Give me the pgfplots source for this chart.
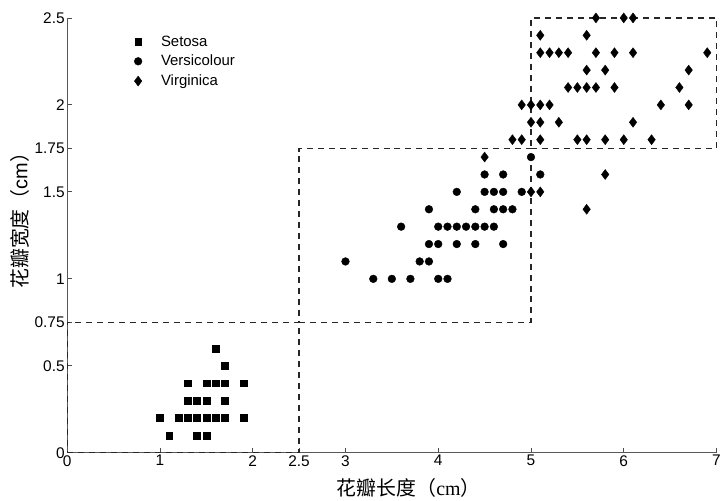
\documentclass[border=0pt]{standalone}
\usepackage{fontspec}
\setmainfont{Liberation Sans}
\newfontfamily\cjk{Noto Sans CJK SC}
\newfontfamily\serif{Liberation Serif}
\usepackage{pgfplots}
\pgfplotsset{compat=1.18}
\begin{document}
\begin{tikzpicture}
\begin{axis}[
  scale only axis,
  width=652.5pt, height=437pt,
  xmin=0, xmax=7, ymin=0, ymax=2.5,
  axis lines*=left,
  axis line style={-, draw=black!65, line width=0.8pt},
  tick align=inside,
  major tick length=5pt,
  tick style={black!70, line width=0.8pt},
  clip=false,
  xtick={0,1,2,2.5,3,4,5,6,7},
  xticklabels={0,1,2,2.5,3,4,5,6,7},
  ytick={0,0.5,0.75,1,1.5,1.75,2,2.5},
  yticklabels={0,0.5,0.75,1,1.5,1.75,2,2.5},
  /pgf/number format/assume math mode=true,
  tick label style={font=\fontsize{15.5}{17}\selectfont},
  xticklabel style={yshift=1pt},
  yticklabel style={xshift=1pt},
  xlabel={{\cjk 花瓣长度（}{\serif cm}{\cjk ）}},
  ylabel={{\cjk 花瓣宽度（}cm{\cjk ）}},
  label style={font=\fontsize{20}{22}\selectfont},
  xlabel style={at={(axis description cs:0.526,0)}, anchor=center, yshift=-35.5pt},
  ylabel style={at={(axis description cs:0,0.545)}, anchor=center, yshift=47.5pt},
  legend style={at={(axis cs:0.72,2.41)}, anchor=north west, draw=none, fill=none,
    font=\fontsize{15}{17}\selectfont, row sep=3.5pt, inner sep=0pt,
    nodes={inner xsep=1pt}},
  legend cell align=left,
  legend image code/.code={\draw[#1] plot coordinates {(4pt,0pt)};
    \path[draw=none, fill=none] (0pt,-0.1pt) rectangle (26pt,0.1pt);},
]
% dashed decision boxes
\addplot[black!85, line width=1.2pt, dash pattern=on 6pt off 5pt, forget plot]
  coordinates {(0,0) (2.5,0) (2.5,0.75) (0,0.75) (0,0)};
\addplot[black!85, line width=1.2pt, dash pattern=on 6pt off 5pt, forget plot]
  coordinates {(2.5,0.75) (5,0.75) (5,1.75) (2.5,1.75) (2.5,0.75)};
\addplot[black!85, line width=1.2pt, dash pattern=on 6pt off 5pt, forget plot]
  coordinates {(5,1.75) (7,1.75) (7,2.5) (5,2.5) (5,1.75)};
% Setosa
\addplot[only marks, mark=square*, mark size=3.4pt, black] coordinates {
(1.0,0.2) (1.1,0.1) (1.2,0.2) (1.3,0.2) (1.3,0.3) (1.3,0.4) (1.4,0.1) (1.4,0.2)
(1.4,0.3) (1.5,0.1) (1.5,0.2) (1.5,0.3) (1.5,0.4) (1.6,0.2) (1.6,0.4) (1.6,0.6)
(1.7,0.2) (1.7,0.3) (1.7,0.4) (1.7,0.5) (1.9,0.2) (1.9,0.4)};
\addlegendentry{Setosa}
% Versicolour
\addplot[only marks, mark=*, mark size=3.9pt, black] coordinates {
(3.3,1.0) (3.5,1.0) (3.7,1.0) (4.0,1.0) (4.1,1.0)
(3.0,1.1) (3.8,1.1) (3.9,1.1)
(3.9,1.2) (4.0,1.2) (4.2,1.2) (4.4,1.2) (4.7,1.2)
(3.6,1.3) (4.0,1.3) (4.1,1.3) (4.2,1.3) (4.3,1.3) (4.4,1.3) (4.5,1.3) (4.6,1.3)
(3.9,1.4) (4.4,1.4) (4.6,1.4) (4.7,1.4) (4.8,1.4)
(4.2,1.5) (4.5,1.5) (4.6,1.5) (4.7,1.5) (4.9,1.5)
(4.5,1.6) (4.7,1.6) (5.1,1.6)
(5.0,1.7)};
\addlegendentry{Versicolour}
% Virginica
\addplot[only marks, mark=diamond*, mark size=5pt, black] coordinates {
(5.6,1.4) (5.0,1.5) (5.1,1.5) (5.8,1.6) (4.5,1.7)
(4.8,1.8) (4.9,1.8) (5.1,1.8) (5.5,1.8) (5.6,1.8) (5.8,1.8) (6.0,1.8) (6.3,1.8)
(5.0,1.9) (5.1,1.9) (5.3,1.9) (6.1,1.9)
(4.9,2.0) (5.0,2.0) (5.1,2.0) (5.2,2.0) (6.4,2.0) (6.7,2.0)
(5.4,2.1) (5.5,2.1) (5.6,2.1) (5.7,2.1) (5.9,2.1) (6.6,2.1)
(5.6,2.2) (5.8,2.2) (6.7,2.2)
(5.1,2.3) (5.2,2.3) (5.3,2.3) (5.4,2.3) (5.7,2.3) (5.9,2.3) (6.1,2.3) (6.9,2.3)
(5.1,2.4) (5.6,2.4)
(5.7,2.5) (6.0,2.5) (6.1,2.5)};
\addlegendentry{Virginica}
\end{axis}
\pgfresetboundingbox
\path[use as bounding box] (-67.5pt,-48pt) rectangle (657pt,455pt);
\end{tikzpicture}
\end{document}
